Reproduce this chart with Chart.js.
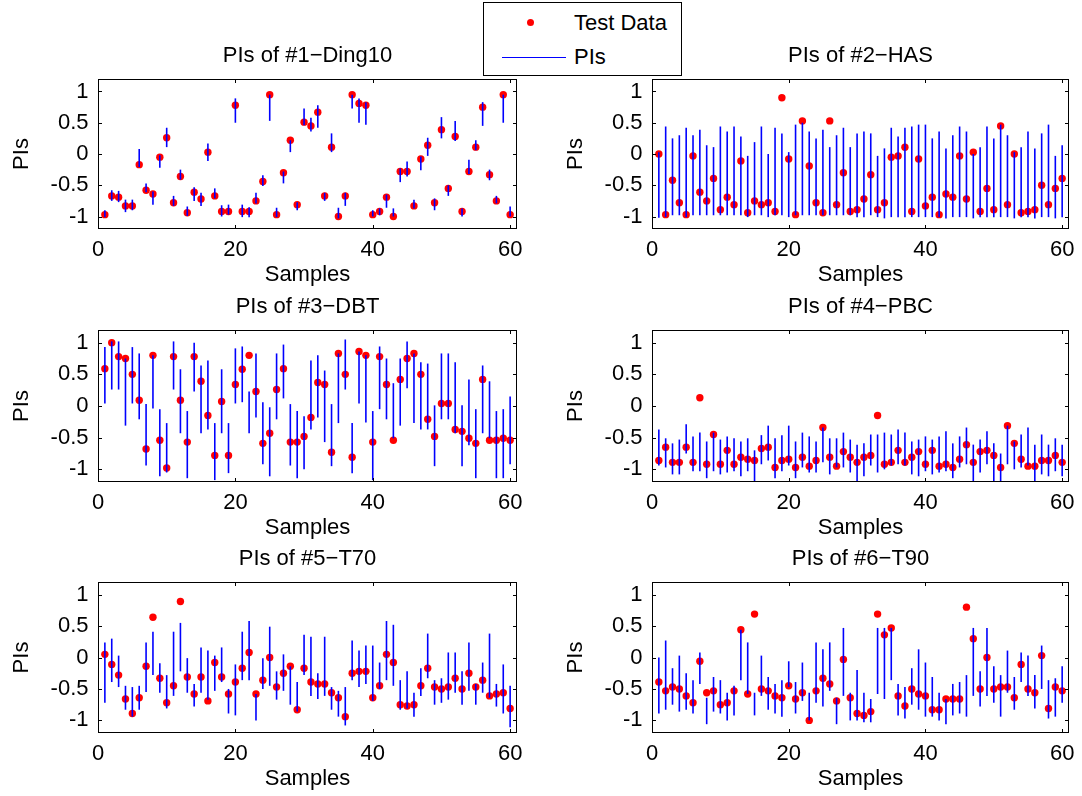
<!DOCTYPE html>
<html>
<head>
<meta charset="utf-8">
<title>PIs of six datasets</title>
<script src="https://cdn.jsdelivr.net/npm/chart.js@4.4.1/dist/chart.umd.min.js"></script>
<style>
  body { margin: 0; background: #fff; width: 1082px; height: 796px; overflow: hidden; position: relative;
         font-family: "Liberation Sans", Arial, sans-serif; }
  canvas { position: absolute; }
  #legend { position: absolute; left: 483px; top: 2px; width: 197px; height: 72px; border: 1px solid #000;
            background: #fff; font-size: 22px; color: #000; z-index: 5; }
  #legend .dot { position: absolute; width: 7px; height: 7px; border-radius: 50%; background: #f00; }
  #legend .line { position: absolute; height: 1px; background: #00f; }
  #legend .txt { position: absolute; left: 90px; white-space: nowrap; line-height: 26px; }
</style>
</head>
<body>
<div id="legend">
  <div class="dot" style="left:43px; top:16px;"></div>
  <div class="txt" style="top:7px;">Test Data</div>
  <div class="line" style="left:18px; top:54px; width:64px;"></div>
  <div class="txt" style="top:41px;">PIs</div>
</div>
<canvas id="c1" width="531" height="255" style="left:0px; top:34px;"></canvas>
<canvas id="c2" width="529" height="255" style="left:554px; top:34px;"></canvas>
<canvas id="c3" width="531" height="257" style="left:0px; top:285px;"></canvas>
<canvas id="c4" width="529" height="257" style="left:554px; top:285px;"></canvas>
<canvas id="c5" width="531" height="256" style="left:0px; top:537px;"></canvas>
<canvas id="c6" width="529" height="256" style="left:554px; top:537px;"></canvas>
<script>
// sample index, tick values
const samples = [1,2,3,4,5,6,7,8,9,10,11,12,13,14,15,16,17,18,19,20,21,22,23,24,25,26,27,28,29,30,
                 31,32,33,34,35,36,37,38,39,40,41,42,43,44,45,46,47,48,49,50,51,52,53,54,55,56,57,58,59,60];
const xTicks = [0, 20, 40, 60];
const yTicks = [-1, -0.5, 0, 0.5, 1];

// #1 Ding10
const ding10Test = [-0.97,-0.67,-0.69,-0.83,-0.83,-0.17,-0.58,-0.64,-0.05,0.26, -0.78,-0.36,-0.94,-0.61,-0.72,0.03,-0.67,-0.92,-0.92,0.78, -0.92,-0.92,-0.75,-0.44,0.95,-0.97,-0.30,0.22,-0.81,0.51, 0.45,0.67,-0.67,0.11,-1.00,-0.67,0.95,0.81,0.78,-0.97, -0.92,-0.69,-1.00,-0.28,-0.28,-0.83,-0.08,0.14,-0.78,0.39, -0.55,0.28,-0.92,-0.28,0.11,0.75,-0.33,-0.75,0.95,-0.97];
const ding10Low = [-1.01,-0.75,-0.77,-0.93,-0.90,-0.21,-0.61,-0.81,-0.22,0.11, -0.83,-0.41,-0.99,-0.75,-0.83,-0.11,-0.71,-1.00,-0.97,0.50, -1.01,-1.01,-0.79,-0.51,0.53,-1.01,-0.47,0.03,-0.90,0.46, 0.36,0.42,-0.75,0.03,-1.03,-0.83,0.73,0.50,0.47,-1.00, -0.98,-0.86,-1.00,-0.45,-0.36,-0.87,-0.26,-0.03,-0.90,0.25, -0.67,0.21,-1.00,-0.32,0.06,0.45,-0.42,-0.79,0.50,-1.00];
const ding10High = [-0.90,-0.58,-0.59,-0.73,-0.73,0.08,-0.47,-0.60,-0.02,0.42, -0.67,-0.25,-0.84,-0.53,-0.62,0.17,-0.55,-0.82,-0.81,0.89, -0.81,-0.85,-0.62,-0.34,0.95,-0.86,-0.28,0.22,-0.77,0.73, 0.58,0.78,-0.62,0.33,-0.86,-0.62,0.95,0.89,0.83,-0.90, -0.87,-0.65,-0.87,-0.23,-0.12,-0.73,-0.04,0.26,-0.71,0.59, -0.50,0.53,-0.87,-0.09,0.22,0.83,-0.25,-0.67,0.95,-0.84];

// #2 HAS
const hasTest = [0.00,-0.97,-0.42,-0.78,-0.97,-0.03,-0.61,-0.75,-0.39,-0.89, -0.69,-0.81,-0.11,-0.94,-0.75,-0.81,-0.78,-0.92,0.90,-0.08, -0.97,0.53,-0.19,-0.78,-0.94,0.53,-0.81,-0.30,-0.92,-0.89, -0.72,-0.33,-0.89,-0.78,-0.05,-0.03,0.11,-0.92,-0.08,-0.83, -0.69,-0.97,-0.64,-0.69,-0.03,-0.72,0.03,-0.92,-0.55,-0.89, 0.45,-0.81,0.00,-0.94,-0.92,-0.89,-0.50,-0.81,-0.55,-0.39];
const hasLow = [-1.02,-1.01,-0.98,-0.98,-1.01,-0.98,-0.98,-0.98,-0.98,-0.98, -0.98,-0.98,-0.98,-1.01,-0.98,-0.98,-1.01,-0.98,-0.98,-1.01, -0.98,-0.98,-0.98,-0.98,-0.98,-0.98,-0.98,-0.98,-0.98,-1.01, -1.01,-0.98,-1.01,-1.03,-1.01,-1.01,-1.01,-1.01,-1.01,-1.01, -1.01,-1.01,-1.03,-1.01,-1.01,-1.01,-1.03,-1.01,-1.01,-1.01, -1.01,-1.01,-1.03,-1.01,-1.01,-1.03,-1.01,-1.01,-1.03,-1.01];
const hasHigh = [0.03,0.44,0.25,0.30,0.42,0.30,0.39,0.14,0.11,0.44, 0.36,0.44,0.28,-0.03,0.19,0.44,0.00,0.42,0.33,0.03, 0.47,0.50,0.36,0.25,0.39,0.11,0.30,0.42,0.11,0.33, 0.36,0.33,-0.03,0.09,0.42,0.28,0.42,0.44,0.47,0.47, 0.25,0.36,0.09,0.30,0.44,0.36,0.00,0.11,0.44,0.25, 0.47,0.30,0.03,0.11,0.36,0.09,0.33,0.47,-0.03,0.14];

// #3 DBT
const dbtTest = [0.59,1.00,0.78,0.75,0.50,0.09,-0.68,0.80,-0.54,-0.98, 0.78,0.09,-0.57,0.78,0.39,-0.15,-0.78,0.07,-0.78,0.34, 0.58,0.80,0.23,-0.59,-0.43,0.26,0.59,-0.57,-0.57,-0.48, -0.18,0.37,0.34,-0.73,0.83,0.50,-0.81,0.86,0.80,-0.57, 0.78,0.34,-0.54,0.42,0.75,0.83,0.50,-0.21,-0.48,0.04, 0.04,-0.37,-0.40,-0.51,-0.59,0.42,-0.54,-0.54,-0.51,-0.54];
const dbtLow = [0.04,0.26,0.26,-0.31,0.04,-0.21,-0.94,-0.04,-1.11,-1.05, 0.26,-0.43,-1.14,0.23,-0.43,-0.37,-1.17,-0.43,-1.06,0.04, 0.06,-0.43,-0.18,-0.92,-1.11,-0.21,0.12,-0.94,-1.14,-1.00, -0.37,-0.18,-0.57,-0.95,-0.27,0.26,-1.06,0.04,-0.26,-1.17, -0.05,-0.21,-0.51,-0.31,0.28,-0.27,-0.37,-0.37,-0.95,-0.21, -0.21,-0.43,-0.95,-0.62,-1.14,-0.43,-0.51,-1.14,-1.14,-0.92];
const dbtHigh = [0.93,1.02,1.02,0.75,0.93,0.83,0.03,0.80,-0.05,-0.27, 1.02,0.58,-0.08,1.00,0.64,0.72,-0.27,0.58,-0.27,0.91, 0.94,0.23,0.83,0.06,-0.02,0.83,0.97,0.03,-0.08,-0.16, 0.72,0.80,0.56,0.03,0.83,1.05,-0.27,0.86,0.80,-0.08, 0.94,0.75,0.36,0.75,1.02,0.83,0.69,0.67,0.01,0.83, 0.83,0.69,0.01,0.42,-0.05,0.64,0.39,-0.08,-0.05,0.15];

// #4 PBC
const pbcTest = [-0.86,-0.65,-0.89,-0.89,-0.65,-0.89,0.13,-0.92,-0.45,-0.92, -0.70,-0.92,-0.81,-0.84,-0.86,-0.67,-0.65,-0.97,-0.86,-0.84, -0.97,-0.81,-0.95,-0.86,-0.34,-0.81,-0.95,-0.72,-0.81,-0.89, -0.81,-0.78,-0.15,-0.92,-0.89,-0.70,-0.89,-0.81,-0.72,-0.92, -0.70,-0.95,-0.92,-0.97,-0.84,-0.61,-0.89,-0.72,-0.70,-0.78, -0.97,-0.31,-0.59,-0.84,-0.95,-0.95,-0.86,-0.86,-0.78,-0.89];
const pbcLow = [-0.94,-0.97,-1.08,-1.08,-0.75,-1.03,-1.03,-1.14,-1.03,-1.08, -1.05,-1.03,-1.11,-1.03,-1.25,-0.92,-0.86,-1.14,-1.03,-0.94, -1.14,-0.97,-1.05,-1.05,-0.89,-1.08,-0.97,-0.97,-1.05,-1.25, -1.11,-0.94,-1.05,-1.00,-0.94,-0.92,-0.94,-1.08,-1.11,-1.03, -1.08,-1.05,-1.03,-1.14,-0.97,-0.92,-1.25,-1.05,-0.92,-1.19, -1.25,-0.92,-1.00,-0.97,-0.94,-1.19,-1.08,-1.11,-1.03,-1.11];
const pbcHigh = [-0.37,-0.51,-0.59,-0.53,-0.29,-0.48,-0.42,-0.56,-0.42,-0.53, -0.48,-0.51,-0.56,-0.51,-0.70,-0.46,-0.31,-0.51,-0.46,-0.31, -0.56,-0.42,-0.48,-0.56,-0.34,-0.51,-0.51,-0.42,-0.53,-0.61, -0.59,-0.45,-0.45,-0.42,-0.45,-0.37,-0.42,-0.56,-0.53,-0.48, -0.53,-0.48,-0.40,-0.59,-0.48,-0.34,-0.61,-0.53,-0.40,-0.59, -0.75,-0.31,-0.56,-0.45,-0.34,-0.61,-0.45,-0.61,-0.51,-0.61];

// #5 T70
const t70Test = [0.05,-0.11,-0.28,-0.66,-0.89,-0.64,-0.14,0.64,-0.33,-0.72, -0.45,0.89,-0.31,-0.58,-0.31,-0.69,-0.08,-0.31,-0.58,-0.39, -0.17,0.08,-0.58,-0.36,0.00,-0.47,-0.25,-0.14,-0.83,-0.17, -0.39,-0.42,-0.42,-0.56,-0.64,-0.94,-0.25,-0.22,-0.22,-0.64, -0.45,0.05,-0.08,-0.75,-0.77,-0.75,-0.45,-0.17,-0.47,-0.50, -0.47,-0.33,-0.50,-0.25,-0.47,-0.36,-0.61,-0.58,-0.56,-0.81];
const t70Low = [-0.72,-0.39,-0.47,-0.83,-0.94,-0.83,-0.55,-0.28,-0.56,-0.81, -0.61,-0.22,-0.56,-0.78,-0.56,-0.67,-0.53,-0.39,-0.89,-0.92, -0.36,-0.36,-1.00,-0.50,-0.45,-0.67,-0.53,-0.75,-0.86,-0.28, -0.61,-0.66,-0.61,-0.83,-0.94,-1.08,-0.36,-0.47,-0.42,-0.69, -0.50,-0.36,-0.45,-0.83,-0.81,-0.94,-0.61,-0.33,-0.75,-0.72, -0.67,-0.56,-0.75,-0.53,-0.75,-0.56,-0.64,-0.78,-0.89,-1.11];
const t70High = [0.24,0.30,0.03,-0.45,-0.47,-0.45,0.24,0.41,-0.09,-0.28, 0.41,0.55,-0.01,-0.42,0.16,0.11,0.03,0.16,-0.50,-0.11, 0.41,0.58,-0.58,-0.01,0.49,-0.22,0.05,-0.14,-0.39,0.36, 0.33,-0.25,0.33,-0.47,-0.53,-0.47,0.27,0.11,0.19,0.19, -0.08,0.58,0.52,-0.36,-0.22,-0.56,-0.17,0.38,-0.36,-0.33, 0.08,0.08,-0.22,0.24,-0.42,-0.08,0.38,-0.42,-0.11,-0.45];

// #6 T90
const t90Test = [-0.39,-0.53,-0.47,-0.50,-0.61,-0.72,-0.06,-0.56,-0.53,-0.75, -0.72,-0.53,0.44,-0.58,0.69,-0.50,-0.53,-0.61,-0.64,-0.45, -0.66,-0.56,-1.00,-0.53,-0.33,-0.42,-0.69,-0.03,-0.64,-0.89, -0.92,-0.86,0.69,0.36,0.47,-0.61,-0.77,-0.50,-0.58,-0.61, -0.83,-0.83,-0.66,-0.66,-0.66,0.80,0.30,-0.50,0.00,-0.50, -0.47,-0.47,-0.64,-0.11,-0.50,-0.56,0.03,-0.81,-0.47,-0.53];
const t90Low = [-0.89,-0.83,-0.75,-0.86,-0.83,-0.89,-0.42,-1.06,-0.86,-0.89, -1.00,-0.92,-0.36,-0.58,-0.92,-0.61,-0.83,-0.89,-0.94,-0.47, -0.89,-0.69,-1.00,-0.72,-0.78,-0.53,-1.06,-0.61,-1.00,-1.00, -1.03,-1.03,-0.58,-0.66,-0.36,-0.92,-0.97,-0.75,-0.83,-0.94, -0.94,-1.00,-1.06,-0.92,-0.89,-0.94,-0.61,-0.78,-0.61,-0.72, -0.94,-0.56,-0.83,-0.39,-0.61,-0.81,-0.50,-0.97,-0.94,-0.72];
const t90High = [0.00,0.27,-0.17,0.03,-0.25,-0.36,0.08,-0.64,-0.31,-0.36, -0.56,-0.45,0.44,0.24,-0.56,0.03,-0.31,-0.42,-0.36,-0.06, -0.39,-0.08,-0.56,0.24,0.13,0.24,-0.64,0.47,-0.56,-0.20, -0.56,-0.66,0.47,0.47,0.47,-0.42,-0.47,-0.17,0.13,-0.08, -0.31,-0.56,-0.66,-0.42,-0.39,-0.28,0.47,-0.22,0.47,-0.14, -0.28,0.11,-0.31,0.08,0.03,-0.28,0.19,-0.36,-0.33,-0.14];

const FONT = { family: '"Liberation Sans", Arial, Helvetica, sans-serif', size: 22 };
Chart.defaults.color = '#000';
Chart.defaults.font.family = FONT.family;

// Boîte noire autour des axes + graduations vers l'intérieur (style MATLAB)
const boxTicks = {
    id: 'boxTicks',
    afterDatasetsDraw(chart) {
        const { ctx, chartArea: a, scales: { x, y } } = chart;
        const len = 4;
        ctx.save();
        ctx.strokeStyle = '#000';
        ctx.lineWidth = 1;
        ctx.beginPath();
        x.ticks.forEach(t => {
            const px = Math.round(x.getPixelForValue(t.value)) + 0.5;
            ctx.moveTo(px, a.bottom); ctx.lineTo(px, a.bottom - len);
            ctx.moveTo(px, a.top); ctx.lineTo(px, a.top + len);
        });
        y.ticks.forEach(t => {
            const py = Math.round(y.getPixelForValue(t.value)) + 0.5;
            ctx.moveTo(a.left, py); ctx.lineTo(a.left + len, py);
            ctx.moveTo(a.right, py); ctx.lineTo(a.right - len, py);
        });
        ctx.stroke();
        ctx.strokeRect(Math.round(a.left) + 0.5, Math.round(a.top) + 0.5,
                       Math.round(a.width) - 1, Math.round(a.height) - 1);
        ctx.restore();
    }
};

function makePanel(id, title, test, low, high) {
    const ctx = document.getElementById(id);
    return new Chart(ctx, {
        type: 'scatter',
        data: {
            datasets: [{
                type: 'bar',
                label: 'PIs',
                data: samples.map((s, i) => ({ x: s, y: [low[i], high[i]] })),
                backgroundColor: '#0000ff',
                borderWidth: 0,
                barThickness: 1.6,
                inflateAmount: 0,
                order: 0
            }, {
                type: 'scatter',
                label: 'Test Data',
                data: samples.map((s, i) => ({ x: s, y: test[i] })),
                backgroundColor: '#ff0000',
                borderWidth: 0,
                pointRadius: 3.7,
                pointHoverRadius: 3.7,
                order: 1
            }]
        },
        options: {
            responsive: false,
            animation: false,
            devicePixelRatio: 1,
            layout: { padding: { left: 0, right: 14, top: 0, bottom: 0 } },
            plugins: {
                legend: { display: false },
                tooltip: { enabled: false },
                title: {
                    display: true,
                    text: title,
                    fullSize: false,
                    font: { ...FONT, weight: 'normal' },
                    padding: { top: 9, bottom: 9.6 }
                }
            },
            scales: {
                x: {
                    type: 'linear',
                    min: 0,
                    max: 61,
                    offset: false,
                    grid: { display: false, drawTicks: false },
                    border: { display: false },
                    afterBuildTicks: s => { s.ticks = xTicks.map(v => ({ value: v })); },
                    afterFit: s => { s.height = 60; },
                    ticks: { font: FONT, padding: 7.5, autoSkip: false, maxRotation: 0 },
                    title: { display: true, text: 'Samples', font: FONT, padding: { top: 0, bottom: 1 } }
                },
                y: {
                    type: 'linear',
                    min: -1.2,
                    max: 1.2,
                    grid: { display: false, drawTicks: false },
                    border: { display: false },
                    afterBuildTicks: s => { s.ticks = yTicks.map(v => ({ value: v })); },
                    afterFit: s => { s.width = 98; },
                    ticks: { font: FONT, padding: 9.5, autoSkip: false, callback: v => String(v) },
                    title: { display: true, text: 'PIs', font: FONT, padding: { top: 8.8, bottom: 0 } }
                }
            }
        },
        plugins: [boxTicks]
    });
}

makePanel('c1', 'PIs of #1\u2212Ding10', ding10Test, ding10Low, ding10High);
makePanel('c2', 'PIs of #2\u2212HAS', hasTest, hasLow, hasHigh);
makePanel('c3', 'PIs of #3\u2212DBT', dbtTest, dbtLow, dbtHigh);
makePanel('c4', 'PIs of #4\u2212PBC', pbcTest, pbcLow, pbcHigh);
makePanel('c5', 'PIs of #5\u2212T70', t70Test, t70Low, t70High);
makePanel('c6', 'PIs of #6\u2212T90', t90Test, t90Low, t90High);
</script>
</body>
</html>
